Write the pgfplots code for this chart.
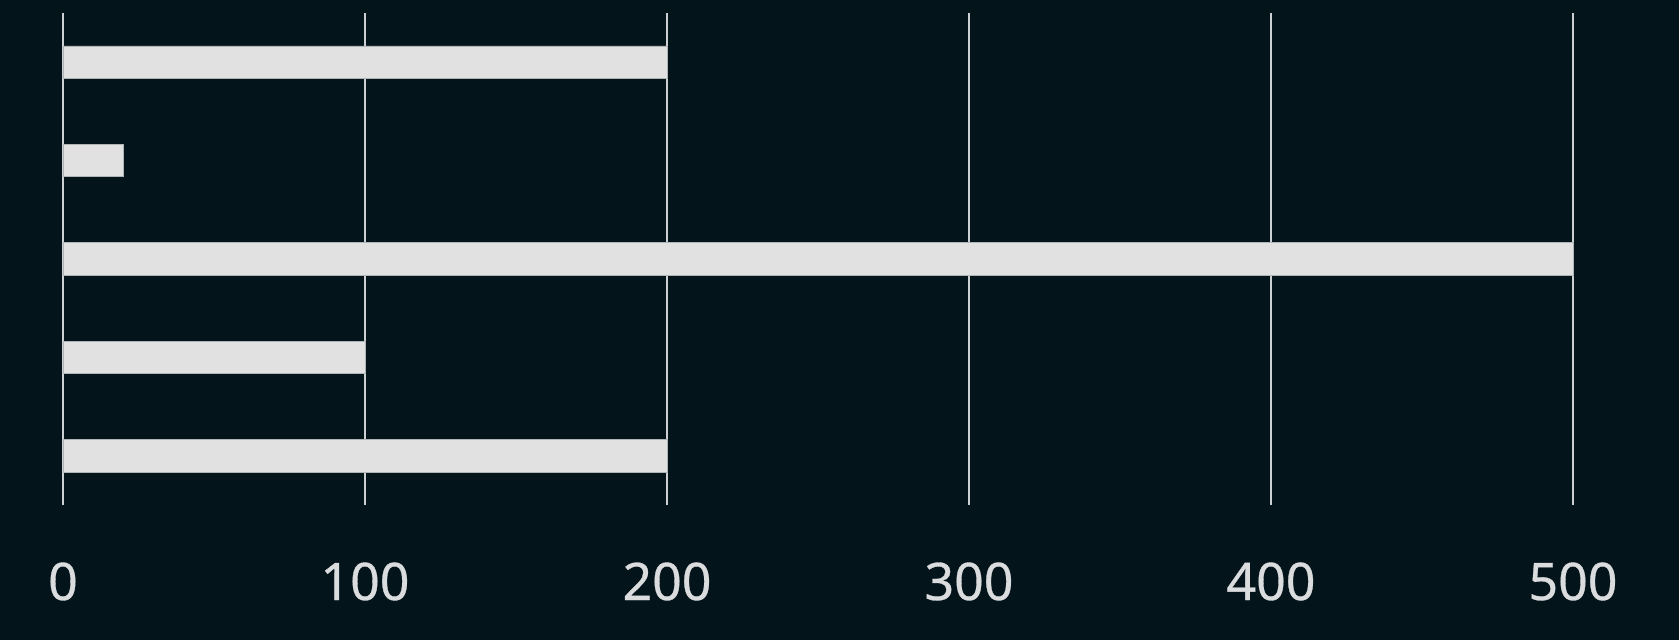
\documentclass[border=0pt]{standalone}
\usepackage{pgfplots}
\pgfplotsset{compat=1.18}
\usepackage{fontspec}
\setmainfont{Noto Sans}
\newfontfamily\tickfont{Noto Sans}[FakeBold=0.6]

\definecolor{bg}{RGB}{3,20,27}
\definecolor{barfill}{RGB}{225,225,225}
\definecolor{baredge}{RGB}{175,180,182}
\definecolor{gridcol}{RGB}{205,208,210}
\definecolor{labelcol}{RGB}{218,220,221}

\begin{document}
\begin{tikzpicture}
% dark background, 1679 x 640 px, axis box from (63,13) to (1573,505)
\fill[bg] (-63bp,-135bp) rectangle (1616bp,505bp);
\begin{axis}[
    scale only axis,
    width=1510bp, height=492bp,
    xmin=0, xmax=500,
    ymin=-0.5, ymax=4.5,
    y dir=reverse,
    xbar, bar width=0.33,
    axis line style={draw=none},
    xtick={0,100,...,500},
    ytick=\empty,
    xmajorgrids=true,
    grid style={gridcol, line width=2bp},
    major tick length=0pt,
    xticklabel style={
        font=\tickfont\bfseries\fontsize{52}{60}\selectfont,
        text=labelcol, anchor=base, yshift=-95bp,
        /pgf/number format/assume math mode=true},
    clip=false,
]
\addplot[fill=barfill, draw=baredge, line width=0.8bp]
    coordinates {(200,0) (20,1) (500,2) (100,3) (200,4)};
\end{axis}
\end{tikzpicture}
\end{document}
